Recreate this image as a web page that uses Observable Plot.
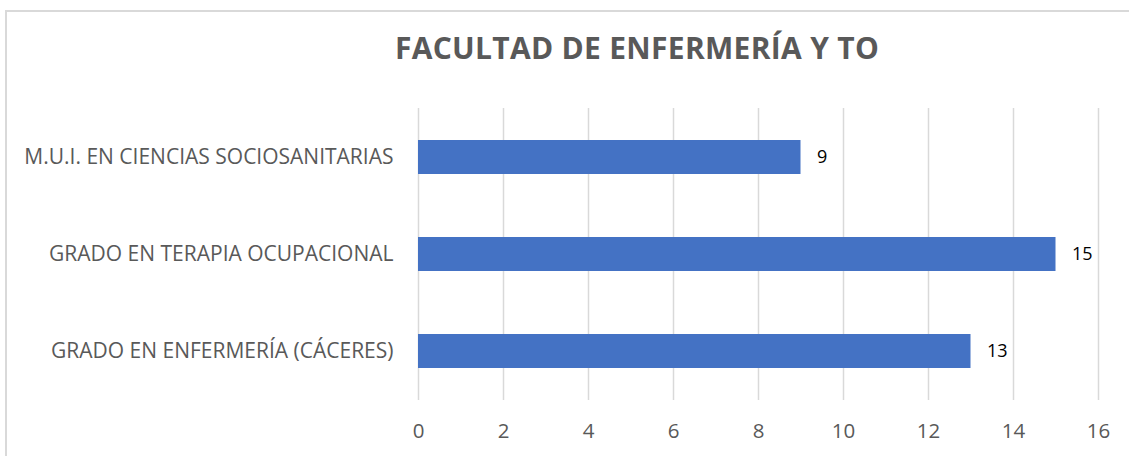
<!DOCTYPE html>
<html>
<head>
<meta charset="utf-8">
<script src="https://cdn.jsdelivr.net/npm/d3@7"></script>
<script src="https://cdn.jsdelivr.net/npm/@observablehq/plot@0.6"></script>
<style>
  html, body { margin: 0; padding: 0; background: #fff; width: 1129px; height: 456px; overflow: hidden; }
  #frame { position: absolute; left: 5px; top: 10px; width: 1140px; height: 460px; border: 2px solid #d9d9d9; box-sizing: border-box; }
  #title { position: absolute; left: 0; top: 28px; width: 1274px; line-height: 40px; text-align: center; font-family: "Open Sans", sans-serif; font-weight: 700; font-size: 30px; letter-spacing: 0.3px; color: #595959; white-space: nowrap; }
  #chart { position: absolute; left: 0; top: 95px; }
</style>
</head>
<body>
<div id="frame"></div>
<div id="title">FACULTAD DE ENFERMERÍA Y TO</div>
<div id="chart"></div>
<script>
const categories = [
  "M.U.I. EN CIENCIAS SOCIOSANITARIAS",
  "GRADO EN TERAPIA OCUPACIONAL",
  "GRADO EN ENFERMERÍA (CÁCERES)"
];
const values = [9, 15, 13];
const xTicks = [0, 2, 4, 6, 8, 10, 12, 14, 16];

const data = categories.map((c, i) => ({category: c, value: values[i]}));

const chart = Plot.plot({
  width: 1129,
  height: 361,
  marginLeft: 418,
  marginRight: 31,
  marginTop: 13,
  marginBottom: 56,
  style: {fontFamily: "Open Sans, sans-serif", background: "transparent"},
  x: {domain: [0, 16], ticks: xTicks, label: null},
  y: {domain: categories, label: null, paddingInner: 0.65, paddingOuter: 0.325},
  marks: [
    Plot.gridX(xTicks, {stroke: "#d9d9d9", strokeOpacity: 1, strokeWidth: 1.5}),
    Plot.barX(data, {x: "value", y: "category", fill: "#4472C4"}),
    Plot.text(data, {x: "value", y: "category", text: d => String(d.value), dx: 16, textAnchor: "start", fill: "#000", fontSize: 18}),
    Plot.axisX({ticks: xTicks, tickSize: 0, tickPadding: 23, fontSize: 20.5, fill: "#595959"}),
    Plot.axisY({tickSize: 0, tickPadding: 25, fontSize: 21, fill: "#595959"})
  ]
});
document.getElementById("chart").appendChild(chart);
</script>
</body>
</html>
